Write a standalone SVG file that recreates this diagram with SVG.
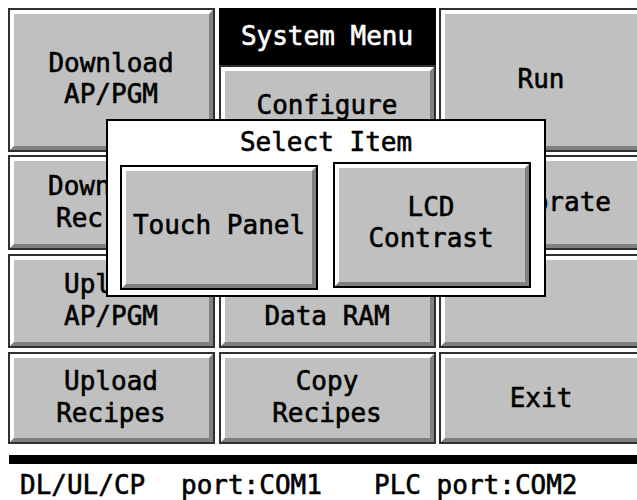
<svg xmlns="http://www.w3.org/2000/svg" width="637" height="500" viewBox="0 0 637 500">
<style>
.t{font-family:"DejaVu Sans Mono","Liberation Mono",monospace;font-size:26px;fill:#000;stroke:#000;stroke-width:0.6;text-anchor:middle}
.s{text-anchor:start}
.e{text-anchor:end}
.w{fill:#fff;stroke:#fff}
.bd{fill:#fff;stroke:#303030;stroke-width:2}
.bk{fill:#fff;stroke:#000;stroke-width:2}
.sh{fill:#808080}
.fc{fill:#c0c0c0}
</style>
<rect width="637" height="500" fill="#fff"/>
<g id="btn-download-ap">
<rect class="bd" x="9" y="9" width="205" height="142"/>
<polygon class="sh" points="213,10 213,150 10,150 14,146 209,146 209,14"/>
<rect class="fc" x="14" y="14" width="195" height="132"/>
<text class="t" x="111" y="72">Download</text>
<text class="t" x="111" y="103">AP/PGM</text>
</g>
<g id="system-menu">
<rect x="219" y="8" width="217" height="57" fill="#000"/>
<text class="t w" x="327" y="45">System Menu</text>
</g>
<g id="btn-configure">
<rect class="bd" x="220" y="66" width="215" height="85"/>
<polygon class="sh" points="434,67 434,150 221,150 225,146 430,146 430,71"/>
<rect class="fc" x="225" y="71" width="205" height="75"/>
<text class="t" x="327" y="114">Configure</text>
</g>
<g id="btn-run">
<rect class="bd" x="440" y="9" width="209" height="142"/>
<polygon class="sh" points="648,10 648,150 441,150 445,146 644,146 644,14"/>
<rect class="fc" x="445" y="14" width="199" height="132"/>
<text class="t" x="541" y="88">Run</text>
</g>
<g id="btn-download-rec">
<rect class="bd" x="9" y="156" width="205" height="93"/>
<polygon class="sh" points="213,157 213,248 10,248 14,244 209,244 209,161"/>
<rect class="fc" x="14" y="161" width="195" height="83"/>
<text class="t s" x="48" y="195">Down</text>
<text class="t s" x="56" y="227">Rec</text>
</g>
<g id="btn-calibrate">
<rect class="bd" x="440" y="156" width="209" height="93"/>
<polygon class="sh" points="648,157 648,248 441,248 445,244 644,244 644,161"/>
<rect class="fc" x="445" y="161" width="199" height="83"/>
<text class="t e" x="611" y="211">brate</text>
</g>
<g id="btn-upload-ap">
<rect class="bd" x="9" y="255" width="205" height="92"/>
<polygon class="sh" points="213,256 213,346 10,346 14,342 209,342 209,260"/>
<rect class="fc" x="14" y="260" width="195" height="82"/>
<text class="t s" x="64" y="293">Upl</text>
<text class="t" x="111" y="325">AP/PGM</text>
</g>
<g id="btn-data-ram">
<rect class="bd" x="220" y="255" width="215" height="92"/>
<polygon class="sh" points="434,256 434,346 221,346 225,342 430,342 430,260"/>
<rect class="fc" x="225" y="260" width="205" height="82"/>
<text class="t" x="327" y="325">Data RAM</text>
</g>
<g id="btn-r3c3">
<rect class="bd" x="440" y="255" width="209" height="92"/>
<polygon class="sh" points="648,256 648,346 441,346 445,342 644,342 644,260"/>
<rect class="fc" x="445" y="260" width="199" height="82"/>
</g>
<g id="btn-upload-rec">
<rect class="bd" x="9" y="353" width="205" height="90"/>
<polygon class="sh" points="213,354 213,442 10,442 14,438 209,438 209,358"/>
<rect class="fc" x="14" y="358" width="195" height="80"/>
<text class="t" x="111" y="390">Upload</text>
<text class="t" x="111" y="422">Recipes</text>
</g>
<g id="btn-copy-rec">
<rect class="bd" x="220" y="353" width="215" height="90"/>
<polygon class="sh" points="434,354 434,442 221,442 225,438 430,438 430,358"/>
<rect class="fc" x="225" y="358" width="205" height="80"/>
<text class="t" x="327" y="390">Copy</text>
<text class="t" x="327" y="422">Recipes</text>
</g>
<g id="btn-exit">
<rect class="bd" x="440" y="353" width="209" height="90"/>
<polygon class="sh" points="648,354 648,442 441,442 445,438 644,438 644,358"/>
<rect class="fc" x="445" y="358" width="199" height="80"/>
<text class="t" x="541" y="407">Exit</text>
</g>
<g id="dialog">
<rect x="107" y="120" width="438" height="176" fill="#fff" stroke="#000" stroke-width="2"/>
<text class="t" x="326" y="151">Select Item</text>
</g>
<g id="btn-touch-panel">
<rect class="bk" x="121" y="166" width="196" height="123"/>
<polygon class="sh" points="316,167 316,288 122,288 126,284 312,284 312,171"/>
<rect class="fc" x="126" y="171" width="186" height="113"/>
<text class="t" x="219" y="234">Touch Panel</text>
</g>
<g id="btn-lcd-contrast">
<rect class="bk" x="334" y="163" width="196" height="124"/>
<polygon class="sh" points="529,164 529,286 335,286 339,282 525,282 525,168"/>
<rect class="fc" x="339" y="168" width="186" height="114"/>
<text class="t" x="431" y="216">LCD</text>
<text class="t" x="431" y="247">Contrast</text>
</g>
<g id="status">
<rect x="9" y="455" width="640" height="9" fill="#000"/>
<text class="t s" x="20" y="494">DL/UL/CP</text>
<text class="t s" x="181" y="494">port:COM1</text>
<text class="t s" x="374" y="494">PLC port:COM2</text>
</g>
</svg>
